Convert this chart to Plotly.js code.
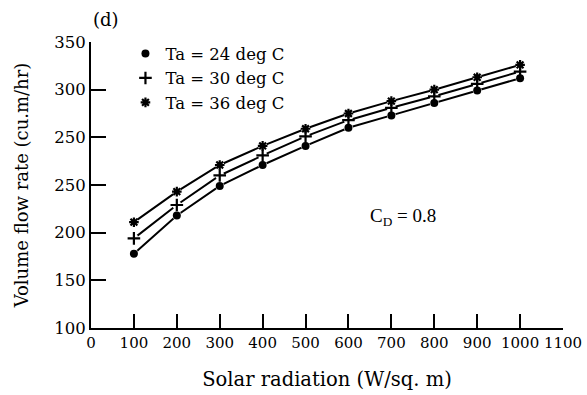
<!DOCTYPE html>
<html>
<head>
<meta charset="utf-8">
<script src="https://cdn.plot.ly/plotly-3.0.1.min.js"></script>
<style>html,body{margin:0;padding:0;background:#fff;}#chart{width:587px;height:395px;}</style>
</head>
<body>
<div id="chart"></div>
<script>
// Solar radiation (W/sq. m)
var radiation = [100, 200, 300, 400, 500, 600, 700, 800, 900, 1000];
// Volume flow rate, in the chart's axis position units (ticks evenly spaced 100..400)
var flowTa24 = [178, 218, 249, 271, 291, 310, 323, 336, 349, 362];
var flowTa30 = [194, 229, 260, 281, 301, 318, 331, 343, 356, 369];
var flowTa36 = [211, 243, 271, 291, 309, 325, 338, 350, 363, 376];
var seriesNames = ["Ta = 24 deg C", "Ta = 30 deg C", "Ta = 36 deg C"];
// tick labels exactly as printed (the original repeats "250")
var yTickVals = [100, 150, 200, 250, 300, 350, 400];
var yTickText = ["100", "150", "200", "250", "250", "300", "350"];
var xTickVals = [0, 100, 200, 300, 400, 500, 600, 700, 800, 900, 1000, 1100];
var xTickText = ["0", "100", "200", "300", "400", "500", "600", "700", "800", "900", "1000", "1100"];

var series = [flowTa24, flowTa30, flowTa36];
var symbols = ["circle", "cross-thin-open", "asterisk-open"];
var sizes = [8, 9, 8];
var serif = "DejaVu Serif, Liberation Serif, serif";

var traces = [];
// connecting lines
series.forEach(function (ys) {
  traces.push({x: radiation, y: ys, mode: "lines", showlegend: false, hoverinfo: "skip",
    line: {color: "#000", width: 2}});
});
// white halos creating small gaps around markers
series.forEach(function (ys) {
  traces.push({x: radiation, y: ys, mode: "markers", showlegend: false, hoverinfo: "skip",
    marker: {symbol: "circle", size: 9, color: "#fff"}});
});
// markers
series.forEach(function (ys, i) {
  traces.push({x: radiation, y: ys, mode: "markers", name: seriesNames[i],
    marker: {symbol: symbols[i], size: sizes[i], color: "#000",
      line: {color: "#000", width: i === 0 ? 0 : 2.2}}});
});

var layout = {
  width: 587, height: 395,
  paper_bgcolor: "#fff", plot_bgcolor: "#fff",
  margin: {l: 90.5, r: 23.7, t: 42.3, b: 66.5, pad: 0},
  font: {family: serif, color: "#000", size: 15},
  showlegend: true,
  legend: {x: 0.073, y: 1.02, xanchor: "left", yanchor: "top", bgcolor: "rgba(0,0,0,0)",
    font: {family: serif, size: 16.5, color: "#000"}, itemwidth: 30},
  xaxis: {
    range: [0, 1100], tickmode: "array", tickvals: xTickVals, ticktext: xTickText,
    ticks: "inside", ticklen: 14, tickwidth: 2, tickcolor: "#000",
    showline: true, linecolor: "#000", linewidth: 2, showgrid: false, zeroline: false,
    tickfont: {family: serif, size: 15, color: "#000"},
    title: {text: "Solar radiation (W/sq. m)", font: {family: serif, size: 19.5, color: "#000"}, standoff: 21}
  },
  yaxis: {
    range: [100, 400], tickmode: "array", tickvals: yTickVals, ticktext: yTickText,
    ticks: "inside", ticklen: 15, tickwidth: 2, tickcolor: "#000",
    showline: true, linecolor: "#000", linewidth: 2, showgrid: false, zeroline: false,
    tickfont: {family: serif, size: 16.5, color: "#000"},
    title: {text: "Volume flow rate (cu.m/hr)", font: {family: serif, size: 18, color: "#000"}, standoff: 21}
  },
  annotations: [
    {text: "(d)", xref: "paper", yref: "paper", x: 0.0, y: 1.0, xanchor: "left", yanchor: "bottom",
      yshift: 10, showarrow: false, font: {family: serif, size: 18, color: "#000"}},
    {text: "C<sub>D</sub> = 0.8", xref: "x", yref: "y", x: 727, y: 216, xanchor: "center", yanchor: "middle",
      showarrow: false, font: {family: "Liberation Serif, serif", size: 19, color: "#000"}}
  ]
};

Plotly.newPlot("chart", traces, layout, {displayModeBar: false, staticPlot: true});
</script>
</body>
</html>
